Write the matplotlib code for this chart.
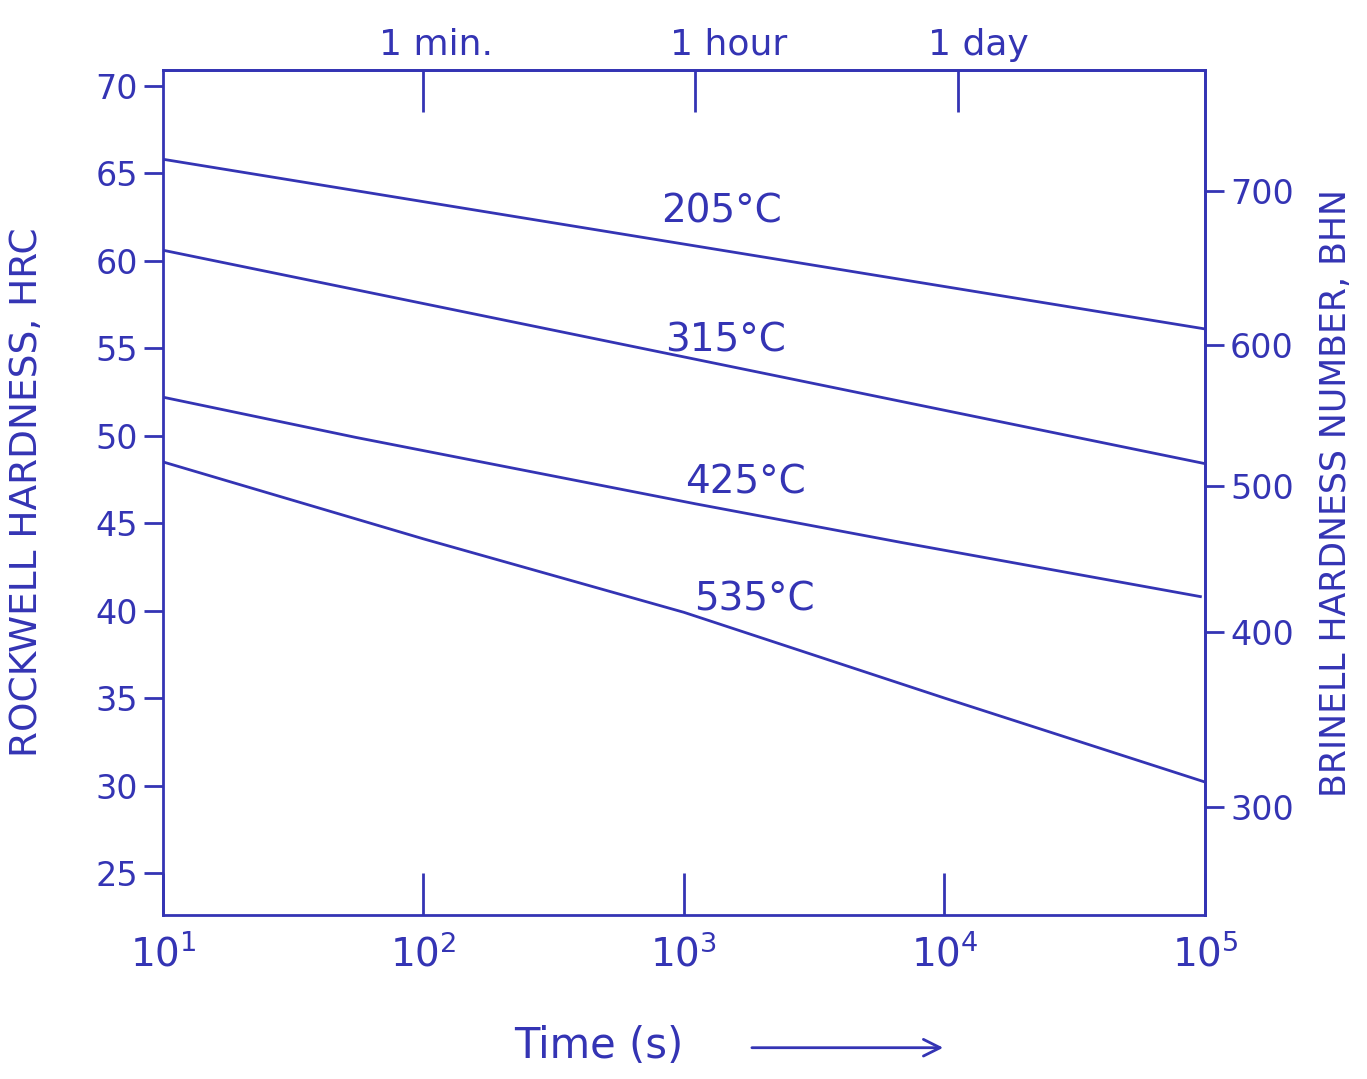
import matplotlib
matplotlib.use("Agg")
import matplotlib.pyplot as plt
from matplotlib.ticker import NullLocator

# Data (time in s, hardness in HRC)
time_205 = [10, 1e5]
hrc_205 = [65.8, 56.1]

time_315 = [10, 1e5]
hrc_315 = [60.6, 48.4]

time_425 = [10, 55, 1110, 6800, 96000]
hrc_425 = [52.2, 49.9, 46.1, 43.9, 40.8]

time_535 = [10, 100, 1000, 1e4, 1e5]
hrc_535 = [48.5, 44.1, 39.9, 35.0, 30.2]

hrc_ticks = [25, 30, 35, 40, 45, 50, 55, 60, 65, 70]
time_ticks = [1e1, 1e2, 1e3, 1e4, 1e5]
time_labels = ["$10^1$", "$10^2$", "$10^3$", "$10^4$", "$10^5$"]

# Brinell scale as marked on the right-hand side (positions on the HRC scale)
bhn_labels = ["700", "600", "500", "400", "300"]
bhn_at_hrc = [64.0, 55.2, 47.1, 38.8, 28.8]

# Landmark times marked along the top
top_ticks = [100, 1100, 11300]
top_label_pos = [112, 1480, 13500]
top_labels = ["1 min.", "1 hour", "1 day"]

curves = [
    (time_205, hrc_205, "205°C", (0.536, 0.832)),
    (time_315, hrc_315, "315°C", (0.540, 0.680)),
    (time_425, hrc_425, "425°C", (0.559, 0.512)),
    (time_535, hrc_535, "535°C", (0.568, 0.373)),
]

ink = "#3434b4"

fig = plt.figure(figsize=(13.67, 10.79), dpi=100)
ax = fig.add_axes([0.1192, 0.152, 0.7623, 0.7831])

for t, h, label, pos in curves:
    ax.plot(t, h, color=ink, linewidth=2)
    ax.text(pos[0], pos[1], label, transform=ax.transAxes, color=ink,
            fontsize=28, ha="center", va="center")

ax.set_xscale("log")
ax.set_xlim(10, 1e5)
ax.set_ylim(22.6, 70.9)

for s in ax.spines.values():
    s.set_color(ink)
    s.set_linewidth(2)

# bottom axis
ax.set_xticks(time_ticks, time_labels)
ax.xaxis.set_minor_locator(NullLocator())
ax.tick_params(axis="x", direction="in", length=30, width=2, color=ink,
               labelcolor=ink, labelsize=28, pad=14)

# left axis
ax.set_yticks(hrc_ticks)
ax.tick_params(axis="y", direction="out", length=14, width=2, color=ink,
               labelcolor=ink, labelsize=24, pad=4)
ax.set_ylabel("ROCKWELL HARDNESS, HRC", fontsize=27, color=ink, labelpad=36)

# right axis (Brinell)
right = ax.secondary_yaxis("right")
right.set_yticks(bhn_at_hrc, bhn_labels)
right.spines["right"].set_color(ink)
right.spines["right"].set_linewidth(2)
right.tick_params(direction="out", length=14, width=2, color=ink,
                  labelcolor=ink, labelsize=24, pad=4)
right.set_ylabel("BRINELL HARDNESS NUMBER, BHN", fontsize=25, color=ink,
                 labelpad=18)

# top axis (time landmarks)
top = ax.secondary_xaxis("top")
top.set_xticks(top_ticks, ["", "", ""])
top.set_xticks(top_label_pos, top_labels, minor=True)
top.spines["top"].set_color(ink)
top.spines["top"].set_linewidth(2)
top.tick_params(which="major", direction="in", length=30, width=2, color=ink)
top.tick_params(which="minor", length=0, labelcolor=ink, labelsize=26, pad=6)

# x label with arrow
fig.text(0.438, 0.031, "Time (s)", fontsize=30, color=ink, ha="center",
         va="center")
fig.add_artist(matplotlib.patches.FancyArrowPatch(
    (0.548, 0.029), (0.692, 0.029), transform=fig.transFigure,
    arrowstyle="->", mutation_scale=30, color=ink, linewidth=2))

fig.savefig("out.png", dpi=100, facecolor="white")
